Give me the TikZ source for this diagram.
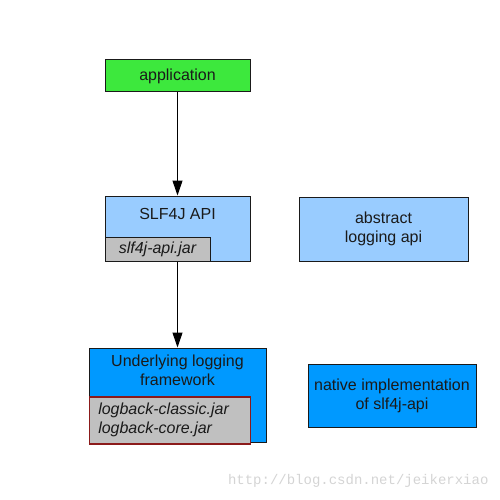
\documentclass[tikz,border=0pt]{standalone}
\usepackage{fontspec}
\setmainfont{Liberation Sans}
\newfontfamily\wmfont{Liberation Mono}
\usetikzlibrary{positioning,arrows.meta}
\definecolor{appgreen}{HTML}{3DE83D}
\definecolor{apiblue}{HTML}{99CCFF}
\definecolor{implblue}{HTML}{0099FF}
\definecolor{jargray}{HTML}{C0C0C0}
\definecolor{jarred}{HTML}{8B1A1A}
\definecolor{ink}{HTML}{1A1A1A}
\definecolor{markgray}{HTML}{D4D4D4}

\begin{document}
\begin{tikzpicture}[
  x=1pt,y=-1pt,
  every node/.style={font=\fontsize{16}{19}\selectfont,text=ink},
  box/.style={draw=ink,line width=1pt,inner sep=0pt,align=center},
  jarbox/.style={draw=ink,line width=1pt,fill=jargray,inner sep=0pt,anchor=south west,font=\fontsize{16}{19}\selectfont\itshape},
  arr/.style={-{Triangle[length=15pt,width=10pt]},line width=1pt,draw=black}
]
\useasboundingbox (0,0) rectangle (500,500);
% top
\node[box,fill=appgreen,minimum width=145pt,minimum height=32pt] (app) at (177.5,76) {application};
% slf4j api
\node[box,fill=apiblue,minimum width=145pt,minimum height=65pt] (slf) at (177.5,228.5) {};
\node (slfname) at (177.5,214) {SLF4J API};
\node[jarbox,minimum width=105pt,minimum height=24pt] (slfjar) at (slf.south west) {slf4j-api.jar};
\node[box,fill=apiblue,minimum width=169pt,minimum height=64pt] (abs) at (383.5,229) {abstract\\logging api};
% underlying framework
\node[box,fill=implblue,minimum width=177pt,minimum height=94pt] (fw) at (177.5,395) {};
\node[align=center] (fwname) at (177.5,370) {Underlying logging\\framework};
\node[jarbox,draw=jarred,line width=1.5pt,minimum width=153pt,minimum height=47pt,align=left,text width=143pt,inner xsep=9pt,yshift=-2pt] (fwjar) at (fw.south west) {logback-classic.jar\\logback-core.jar};
\node[box,fill=implblue,minimum width=168pt,minimum height=63pt] (nat) at (392,395.5) {native implementation\\of slf4j-api};
% arrows
\draw[arr] (app) -- (slf);
\draw[arr] (slf) -- (fw);
% watermark
\node[font=\fontsize{14}{16}\selectfont\wmfont,text=markgray,anchor=east] (mark) at (492,481) {http://blog.csdn.net/jeikerxiao};
\end{tikzpicture}
\end{document}
